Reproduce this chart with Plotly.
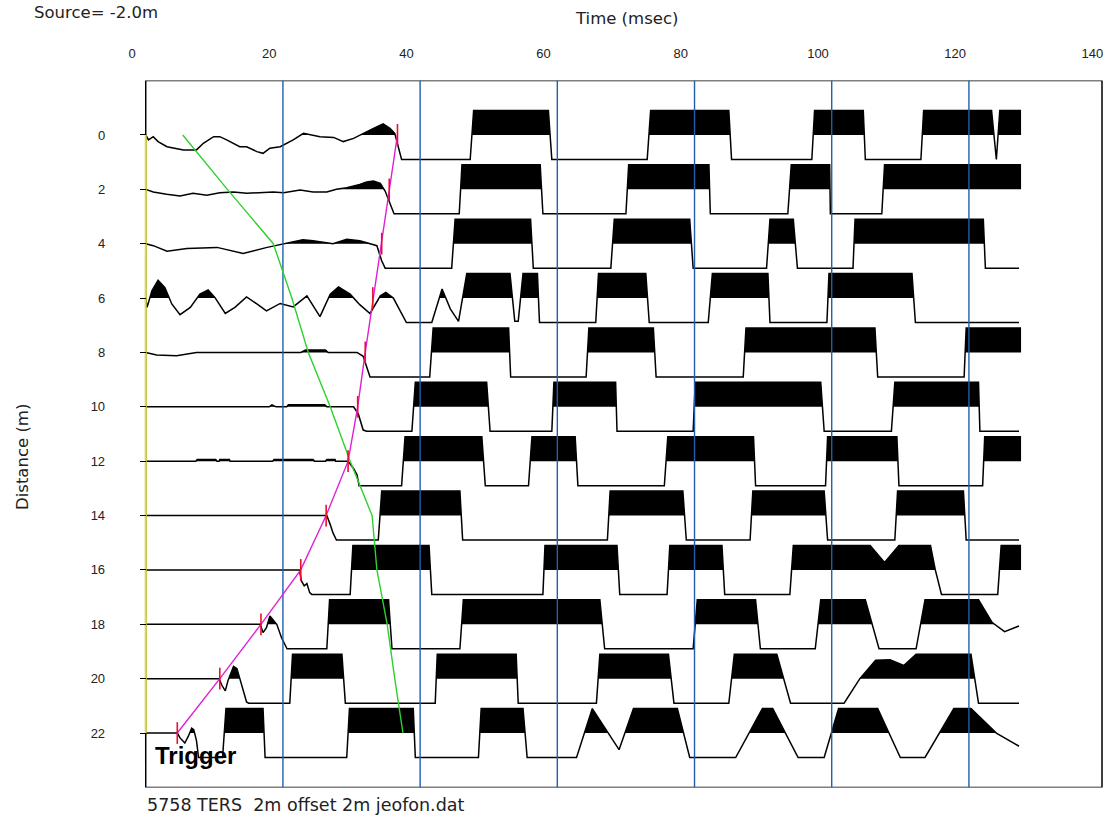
import plotly.graph_objects as go

# ---------------- data ----------------
distances = [0, 2, 4, 6, 8, 10, 12, 14, 16, 18, 20, 22]
x_tick_values = [0, 20, 40, 60, 80, 100, 120, 140]
grid_times = [22, 42, 62, 82, 102, 122]
trigger_time = 2.0
record_end_time = 141.4
# first-break picks (red ticks + magenta line), msec
pick_times = [38.7, 37.5, 36.4, 35.1, 34.0, 32.9, 31.5, 28.3, 24.6, 18.8, 12.8, 6.6]
# green curve, msec
green_times = [7.4, 13.9, 20.6, 23.3, 25.7, 28.9, 31.8, 35.0, 35.7, 37.2, 38.3, 39.5]

# traces: [time msec, normalised amplitude (+1 top clip, -1 bottom clip)]
trace_00 = [[2.0, 0], [2.4, -0.2], [3.1, -0.07], [3.8, -0.27], [5.1, -0.48], [6.0, -0.54],
            [7.5, -0.61], [9.4, -0.61], [10.4, -0.34], [11.9, -0.07], [12.8, -0.07], [13.8, -0.2],
            [14.8, -0.34], [15.7, -0.48], [16.7, -0.48], [18.2, -0.68], [19.1, -0.75], [20.1, -0.54],
            [21.6, -0.48], [22.6, -0.34], [23.5, -0.2], [25.0, 0.07], [26.0, 0], [27.4, -0.07],
            [29.4, -0.1], [30.8, -0.27], [32.3, -0.14], [33.7, 0.07], [35.2, 0.27], [36.6, 0.45],
            [37.6, 0.27], [38.3, 0.07], [38.8, -0.48], [39.3, -1],
            [49.3, -1], [49.8, 1], [60.7, 1], [61.2, -1],
            [75.1, -1], [75.6, 1], [87.0, 1], [87.4, -1],
            [99.1, -1], [99.5, 1], [106.6, 1], [106.9, -1],
            [115.0, -1], [115.4, 1], [125.3, 1], [126.0, -1], [126.5, 1], [129.6, 1]]
trace_02 = [[2.0, 0], [3.1, -0.11], [5.05, -0.2], [7.0, -0.27], [8.9, -0.16], [10.9, -0.24],
            [12.8, -0.14], [14.8, -0.11], [16.7, -0.16], [18.7, -0.14], [20.6, -0.11], [22.1, -0.14],
            [24.5, -0.03], [26.4, -0.11], [28.4, -0.11], [29.8, 0], [31.3, 0.07], [33.2, 0.2],
            [34.2, 0.3], [35.2, 0.34], [36.2, 0.24], [36.9, -0.07], [37.6, -0.61], [38.2, -1],
            [47.7, -1], [48.1, 1], [59.5, 1], [59.9, -1],
            [72.0, -1], [72.4, 1], [84.1, 1], [84.3, -1],
            [95.6, -1], [96.1, 1], [101.7, 1], [101.8, -1],
            [109.3, -1], [109.7, 1], [129.6, 1]]
trace_04 = [[2.0, 0], [3.1, -0.08], [5.1, -0.31], [8.0, -0.2], [12.4, -0.15], [16.2, -0.4],
            [19.7, -0.15], [22.0, 0], [24.9, 0.16], [26.4, 0.12], [29.3, 0], [31.3, 0.18],
            [33.2, 0.12], [35.7, -0.08], [36.4, -0.7], [36.9, -1],
            [46.6, -1], [47.1, 1], [58.1, 1], [58.5, -1],
            [69.8, -1], [70.3, 1], [81.3, 1], [81.8, -1],
            [92.5, -1], [93.0, 1], [96.4, 1], [97.0, -1],
            [105.1, -1], [105.4, 1], [124.1, 1], [124.4, -1], [129.3, -1]]
trace_06 = [[2.0, 0], [2.2, -0.38], [2.9, 0.3], [3.8, 0.73], [4.8, 0.43], [5.8, -0.24], [7.0, -0.68],
            [8.5, -0.38], [9.9, 0.16], [11.1, 0.33], [12.1, 0.02], [13.6, -0.63], [15.0, -0.38],
            [16.7, 0.05], [18.2, -0.24], [19.6, -0.52], [21.6, -0.22], [23.5, -0.36], [25.5, 0.09],
            [27.4, -0.76], [28.9, 0.16], [30.1, 0.46], [31.8, 0.16], [33.2, -0.27], [34.7, -0.63],
            [36.2, 0.09], [37.0, 0.23], [38.1, 0], [40.0, -1],
            [43.7, -1], [45.2, 0.37], [46.4, -0.44], [47.6, -0.95], [48.8, 1], [55.1, 1],
            [55.8, -0.95], [56.3, -0.95], [57.0, 1], [59.1, 1], [59.4, -1],
            [67.6, -1], [68.0, 1], [74.9, 1], [75.4, -1],
            [84.0, -1], [84.6, 1], [92.7, 1], [93.0, -1],
            [101.3, -1], [101.6, 1], [113.7, 1], [114.2, -1], [129.3, -1]]
trace_08 = [[2.0, 0], [3.6, -0.1], [6.5, -0.13], [9.4, 0], [13.8, 0.0], [19.6, 0.0], [24.6, 0.0],
            [25.3, 0.1], [28.2, 0.1], [28.6, 0], [32.8, 0], [33.7, -0.16], [34.7, -1],
            [43.4, -1], [43.9, 1], [54.9, 1], [55.2, -1],
            [66.2, -1], [66.6, 1], [76.0, 1], [76.4, -1],
            [89.1, -1], [89.5, 1], [108.3, 1], [108.7, -1],
            [121.3, -1], [121.6, 1], [129.6, 1]]
trace_10 = [[2.0, 0], [20.0, 0], [20.4, 0.08], [21.0, 0], [22.55, 0], [22.8, 0.08], [28.1, 0.08],
            [28.4, 0], [32.3, 0], [33.0, -0.3], [33.7, -0.95], [34.2, -1],
            [40.8, -1], [41.3, 1], [51.7, 1], [52.2, -1],
            [61.2, -1], [61.5, 1], [70.5, 1], [70.7, -1],
            [81.8, -1], [82.1, 1], [100.4, 1], [100.9, -1],
            [110.7, -1], [111.2, 1], [123.4, 1], [123.6, -1], [129.3, -1]]
trace_12 = [[2.0, 0], [9.3, 0], [9.5, 0.07], [12.2, 0.07], [12.4, 0], [12.7, 0], [12.8, 0.07],
            [14.2, 0.07], [14.3, 0], [20.5, 0], [20.7, 0.07], [26.4, 0.07], [26.6, 0], [28.2, 0],
            [28.4, 0.07], [29.6, 0.07], [29.7, 0], [31.5, 0], [32.3, -0.3], [32.8, -0.55], [33.1, -1],
            [39.3, -1], [39.8, 1], [51.0, 1], [51.5, -1],
            [57.8, -1], [58.3, 1], [64.6, 1], [65.0, -1],
            [77.6, -1], [78.1, 1], [90.6, 1], [90.9, -1],
            [101.1, -1], [101.4, 1], [111.5, 1], [111.8, -1],
            [124.0, -1], [124.3, 1], [129.6, 1]]
trace_14 = [[2.0, 0], [28.4, 0], [28.9, -0.37], [29.3, -0.71], [29.8, -1],
            [35.9, -1], [36.4, 1], [47.8, 1], [48.2, -1],
            [69.3, -1], [69.7, 1], [80.3, 1], [80.8, -1],
            [90.1, -1], [90.5, 1], [100.9, 1], [101.4, -1],
            [111.2, -1], [111.6, 1], [121.2, 1], [121.6, -1], [129.3, -1]]
trace_16 = [[2.0, 0], [24.4, 0], [24.7, -0.45], [25.1, -0.65], [25.5, -0.56], [25.9, -0.93], [26.2, -1],
            [31.8, -1], [32.2, 1], [43.3, 1], [43.7, -1],
            [59.9, -1], [60.2, 1], [70.7, 1], [71.1, -1],
            [78.0, -1], [78.4, 1], [86.0, 1], [86.4, -1],
            [95.9, -1], [96.4, 1], [107.6, 1], [109.7, 0.3], [111.8, 1], [116.4, 1], [117.1, 0],
            [118.0, -1], [126.2, -1], [126.7, 1], [129.6, 1]]
trace_18 = [[2.0, 0], [18.7, 0], [19.1, -0.34], [19.6, -0.14], [20.1, 0.34], [20.5, 0.2], [21.1, 0],
            [21.8, -0.55], [22.6, -1],
            [28.4, -1], [28.8, 1], [37.4, 1], [37.9, -1],
            [47.8, -1], [48.3, 1], [68.2, 1], [68.9, -1],
            [81.8, -1], [82.4, 1], [90.9, 1], [91.6, -1],
            [99.6, -1], [100.4, 1], [106.9, 1], [108.9, -1],
            [114.3, -1], [115.6, 1], [123.4, 1], [125.4, 0.07], [127.2, -0.3], [129.3, -0.07]]
trace_20 = [[2.0, 0], [12.7, 0], [13.1, -0.27], [13.6, -0.5], [14.0, -0.07], [14.8, 0.5], [15.3, 0.41],
            [15.7, 0], [16.7, -0.95], [17.0, -1],
            [23.0, -1], [23.4, 1], [30.6, 1], [31.1, -1],
            [44.2, -1], [44.5, 1], [56.0, 1], [56.3, -1],
            [67.7, -1], [68.2, 1], [78.2, 1], [79.0, -1],
            [87.0, -1], [87.8, 1], [94.0, 1], [96.0, -1],
            [103.8, -1], [106.1, 0], [108.4, 0.75], [110.5, 0.77], [112.5, 0.54], [114.3, 1],
            [122.3, 1], [123.4, -1], [129.3, -1]]
trace_22 = [[2.0, 0], [6.6, 0], [7.0, -0.2], [7.7, -0.41], [8.2, -0.14], [8.7, 0.2], [9.0, 0.14],
            [9.4, -0.31], [9.7, -1],
            [13.2, -1], [13.7, 1], [19.1, 1], [19.4, -1],
            [31.3, -1], [31.7, 1], [41.0, 1], [41.3, -1],
            [50.5, -1], [50.9, 1], [57.0, 1], [57.6, -1],
            [64.8, -1], [67.1, 1], [71.0, -0.68], [73.1, 1], [79.5, 1], [81.3, -1],
            [88.0, -1], [91.9, 1], [93.4, 1], [97.1, -1],
            [100.9, -1], [103.0, 1], [108.7, 1], [112.0, -1],
            [115.6, -1], [119.8, 1], [122.3, 1], [126.0, 0], [129.3, -0.54]]

traces = [trace_00, trace_02, trace_04, trace_06, trace_08, trace_10,
          trace_12, trace_14, trace_16, trace_18, trace_20, trace_22]

# ---------------- geometry / styling ----------------
W, H = 1105, 823
X0_PX, PX_PER_MS = 132.0, 6.86
T_MIN = -X0_PX / PX_PER_MS
T_MAX = (W - X0_PX) / PX_PER_MS
BOX_TOP_PX, BOX_BOT_PX = 80.6, 787.4
AMP = 0.9           # clip amplitude in distance units
PICK_HALF = 0.4

def px(x):
    return x / W

def py(y):
    return 1 - y / H

def positive_polygon(ts, amps, base):
    xs, ys = [ts[0]], [base]
    for i in range(len(ts)):
        if i > 0:
            a0, a1 = amps[i - 1], amps[i]
            if (a0 > 0 > a1) or (a0 < 0 < a1):
                tc = ts[i - 1] + (ts[i] - ts[i - 1]) * a0 / (a0 - a1)
                xs.append(tc)
                ys.append(base)
        xs.append(ts[i])
        ys.append(base - AMP * max(amps[i], 0))
    xs.append(ts[-1])
    ys.append(base)
    return xs, ys

fig = go.Figure()

for d, tr in zip(distances, traces):
    ts = [p[0] for p in tr]
    amps = [p[1] for p in tr]
    fx, fy = positive_polygon(ts, amps, d)
    fig.add_trace(go.Scatter(x=fx, y=fy, mode="lines", fill="toself",
                             fillcolor="black", line=dict(width=0, color="rgba(0,0,0,0)"),
                             hoverinfo="skip"))
    fig.add_trace(go.Scatter(x=ts, y=[d - AMP * a for a in amps], mode="lines",
                             line=dict(color="black", width=1.5), hoverinfo="skip"))

# blue time grid lines
gx, gy = [], []
for g in grid_times:
    gx += [g, g, None]
    gy += [-2, 24, None]
fig.add_trace(go.Scatter(x=gx, y=gy, mode="lines", line=dict(color="#1f5fae", width=1.4),
                         hoverinfo="skip"))

# trigger (yellow)
fig.add_trace(go.Scatter(x=[trigger_time, trigger_time], y=[distances[0], distances[-1]],
                         mode="lines", line=dict(color="#dede3c", width=2), hoverinfo="skip"))

# green curve
fig.add_trace(go.Scatter(x=green_times, y=distances, mode="lines",
                         line=dict(color="#2ed02e", width=1.4), hoverinfo="skip"))

# magenta pick line
fig.add_trace(go.Scatter(x=pick_times, y=distances, mode="lines",
                         line=dict(color="#e020d8", width=1.4), hoverinfo="skip"))

# red pick ticks
rx, ry = [], []
for t, d in zip(pick_times, distances):
    rx += [t, t, None]
    ry += [d - PICK_HALF, d + PICK_HALF, None]
fig.add_trace(go.Scatter(x=rx, y=ry, mode="lines", line=dict(color="#e8102c", width=1.6),
                         hoverinfo="skip"))

text_font = dict(family="DejaVu Sans", size=16.5, color="#222222")

fig.update_layout(
    width=W, height=H,
    margin=dict(l=0, r=0, t=0, b=0),
    paper_bgcolor="white", plot_bgcolor="white",
    showlegend=False,
    xaxis=dict(domain=[0, 1], range=[T_MIN, T_MAX], side="top",
               tickvals=x_tick_values, ticktext=[str(v) for v in x_tick_values],
               ticks="", showgrid=False, zeroline=False, showline=False,
               tickfont=dict(family="Liberation Sans", size=13, color="#222222"),
               ticklabelstandoff=19),
    yaxis=dict(domain=[py(BOX_BOT_PX), py(BOX_TOP_PX)], range=[24, -2],
               anchor="free", position=px(X0_PX + trigger_time * PX_PER_MS),
               tickvals=distances, ticktext=[str(v) for v in distances],
               ticks="outside", ticklen=6, tickcolor="black", tickwidth=1,
               showgrid=False, zeroline=False, showline=False,
               tickfont=dict(family="Liberation Sans", size=13, color="#222222"),
               ticklabelstandoff=32),
    shapes=[dict(type="rect", xref="x", yref="y", x0=trigger_time, x1=record_end_time,
                 y0=-2, y1=24, line=dict(color="black", width=1.5), layer="below")],
    annotations=[
        dict(text="Source= -2.0m", x=px(32), y=py(13), xref="paper", yref="paper",
             xanchor="left", yanchor="middle", showarrow=False, font=text_font),
        dict(text="Time (msec)", x=px(626), y=py(19), xref="paper", yref="paper",
             xanchor="center", yanchor="middle", showarrow=False, font=text_font),
        dict(text="Distance (m)", x=px(22), y=py(457), xref="paper", yref="paper",
             xanchor="center", yanchor="middle", showarrow=False, textangle=-90,
             font=text_font),
        dict(text="5758 TERS  2m offset 2m jeofon.dat", x=px(145), y=py(805),
             xref="paper", yref="paper", xanchor="left", yanchor="middle",
             showarrow=False, font=dict(family="DejaVu Sans", size=17.5, color="#222222")),
        dict(text="<b>Trigger</b>", x=px(195), y=py(755), xref="paper", yref="paper",
             xanchor="center", yanchor="middle", showarrow=False,
             font=dict(family="Liberation Sans", size=24, color="black")),
    ],
)

fig.write_html("out.html")
